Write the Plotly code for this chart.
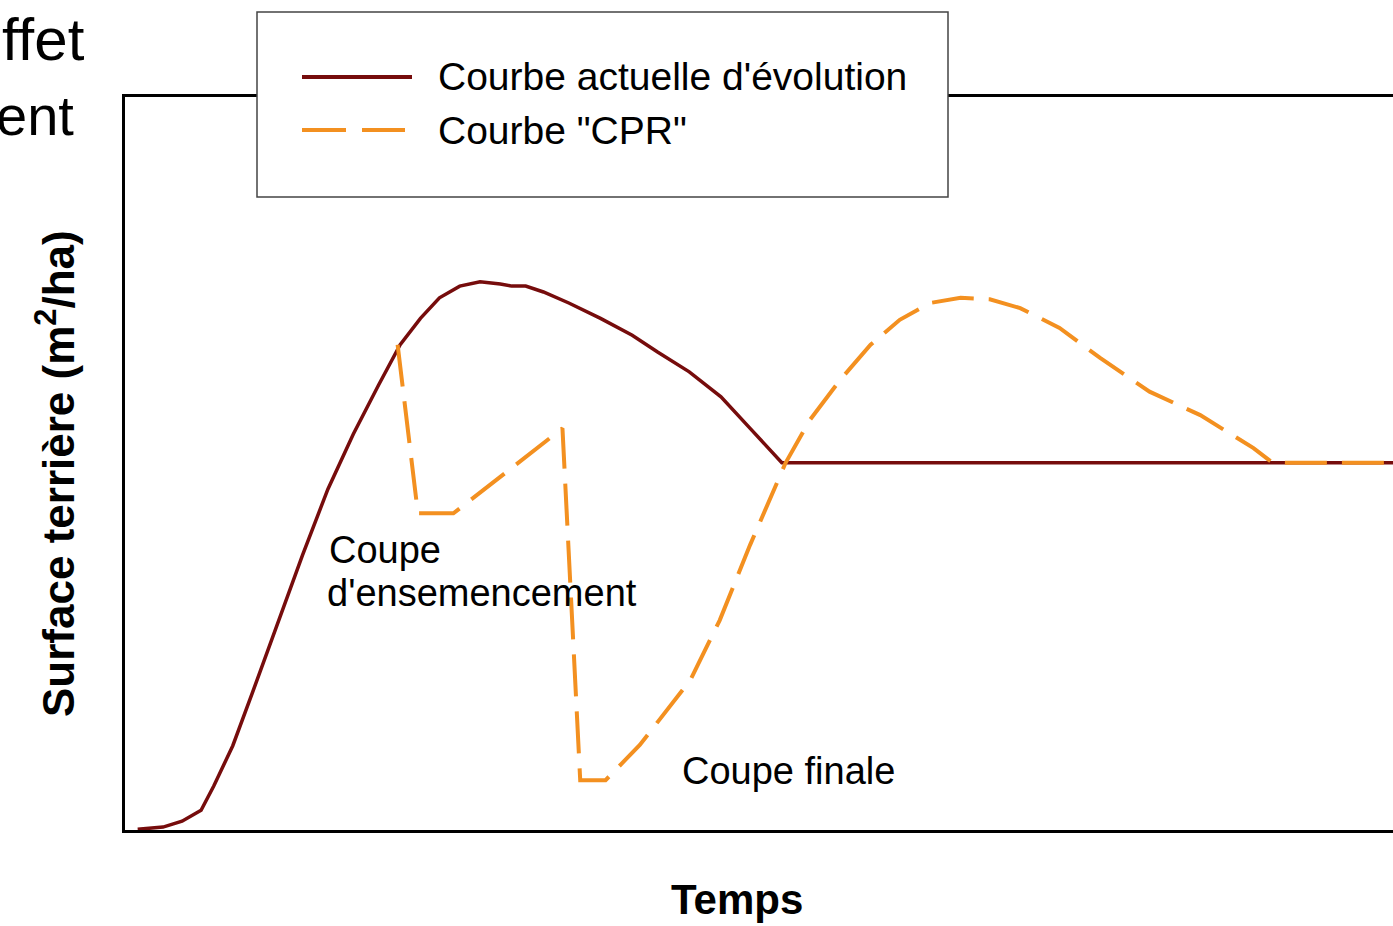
import plotly.graph_objects as go

# --- data (time units 0-100, basal area units 0-100) ---
actual_x = [1, 3, 4.5, 6, 7, 8.5, 10, 12, 14, 16, 18, 20, 21.7, 23.3, 24.8, 26.4, 28,
            29.6, 30.5, 31.6, 33, 35, 37.5, 40, 42, 44.5, 47, 49.3, 51.8, 100]
actual_y = [0.1, 0.4, 1.2, 2.7, 6, 11.5, 18.5, 28, 37.5, 46.5, 54, 60.7, 66.2, 69.8, 72.6,
            74.2, 74.8, 74.5, 74.2, 74.2, 73.4, 71.9, 69.8, 67.5, 65.2, 62.5, 59.1, 54.8,
            50.1, 50.1]

cpr_x = [21.5, 23.1, 25.9, 34.5, 35.9, 37.9, 40.6, 44.6, 46.9, 49.3, 52.1, 54.0, 56.4,
         58.8, 61.1, 63.5, 65.9, 68.2, 70.6, 73.7, 76.9, 80.8, 84.8, 89.0, 90.5, 100]
cpr_y = [66.2, 43.2, 43.2, 54.8, 6.8, 6.8, 11.6, 20.5, 28.6, 38.9, 50.1, 55.9, 61.4,
         66.2, 69.6, 71.9, 72.6, 72.4, 71.2, 68.5, 64.4, 59.8, 56.6, 52.1, 50.1, 50.1]

series_names = ["Courbe actuelle d'évolution", 'Courbe "CPR"']
labels = ["Coupe", "d'ensemencement", "Coupe finale"]
label_x = [15.9, 15.8, 43.8]
label_y = [38.2, 32.3, 8.0]

RED = "#760c0c"
ORANGE = "#f39020"
FONT = "Liberation Sans, Arial, sans-serif"

fig = go.Figure()
fig.add_trace(go.Scatter(x=actual_x, y=actual_y, mode="lines", name=series_names[0],
                         line=dict(color=RED, width=3.5)))
fig.add_trace(go.Scatter(x=cpr_x, y=cpr_y, mode="lines", name=series_names[1],
                         line=dict(color=ORANGE, width=4, dash="42px,15px")))

anns = []
for t, x, y in zip(labels, label_x, label_y):
    anns.append(dict(x=x, y=y, xref="x", yref="y", text=t, showarrow=False,
                     xanchor="left", yanchor="middle",
                     font=dict(family=FONT, size=38, color="black")))

# legend box (manual)
lx0, lx1, ly0, ly1 = (257-125)/1268, (948-125)/1268, (830-197)/733, (830-12)/733
shapes = [
    dict(type="rect", xref="paper", yref="paper", x0=lx0, x1=lx1, y0=ly0, y1=ly1,
         fillcolor="white", line=dict(color="#444444", width=1.5), layer="above"),
    dict(type="line", xref="paper", yref="paper", x0=(302-125)/1268, x1=(412-125)/1268,
         y0=(830-77)/733, y1=(830-77)/733, line=dict(color=RED, width=4), layer="above"),
    dict(type="line", xref="paper", yref="paper", x0=(302-125)/1268, x1=(405-125)/1268,
         y0=(830-130)/733, y1=(830-130)/733, line=dict(color=ORANGE, width=4, dash="44px,16px"),
         layer="above"),
]
for t, py in zip(series_names, [77, 130]):
    anns.append(dict(x=(436-125)/1268, y=(830-py)/733, xref="paper", yref="paper", text=t,
                     showarrow=False, xanchor="left", yanchor="middle",
                     font=dict(family=FONT, size=39, color="black")))

# axis titles
anns.append(dict(x=(737-125)/1268, y=(830-900)/733, xref="paper", yref="paper",
                 text="<b>Temps</b>", showarrow=False, xanchor="center", yanchor="middle",
                 font=dict(family=FONT, size=42, color="black")))
anns.append(dict(x=(55-125)/1268, y=(830-474)/733, xref="paper", yref="paper",
                 text="<b>Surface terrière (m<sup>2</sup>/ha)</b>", showarrow=False,
                 textangle=-90, xanchor="center", yanchor="middle",
                 font=dict(family=FONT, size=44, color="black")))

# cut-off slide text at top-left
anns.append(dict(x=(87-125)/1268, y=(830-40)/733, xref="paper", yref="paper", text="ffet",
                 showarrow=False, xanchor="right", yanchor="middle",
                 font=dict(family=FONT, size=60, color="black")))
anns.append(dict(x=(76-125)/1268, y=(830-115)/733, xref="paper", yref="paper", text="ent",
                 showarrow=False, xanchor="right", yanchor="middle",
                 font=dict(family=FONT, size=56, color="black")))

fig.update_layout(
    width=1393, height=926,
    margin=dict(l=125, r=0, t=97, b=96),
    paper_bgcolor="white", plot_bgcolor="white",
    showlegend=False,
    annotations=anns, shapes=shapes,
    xaxis=dict(range=[0, 100], showgrid=False, zeroline=False, showticklabels=False,
               ticks="", showline=True, mirror=True, linecolor="black", linewidth=2.5,
               fixedrange=True),
    yaxis=dict(range=[0, 100], showgrid=False, zeroline=False, showticklabels=False,
               ticks="", showline=True, linecolor="black", linewidth=2.5, fixedrange=True),
)

fig.write_html("out.html", config={"displayModeBar": False},
               post_script="document.body.style.margin='0';document.body.style.overflow='hidden';")
